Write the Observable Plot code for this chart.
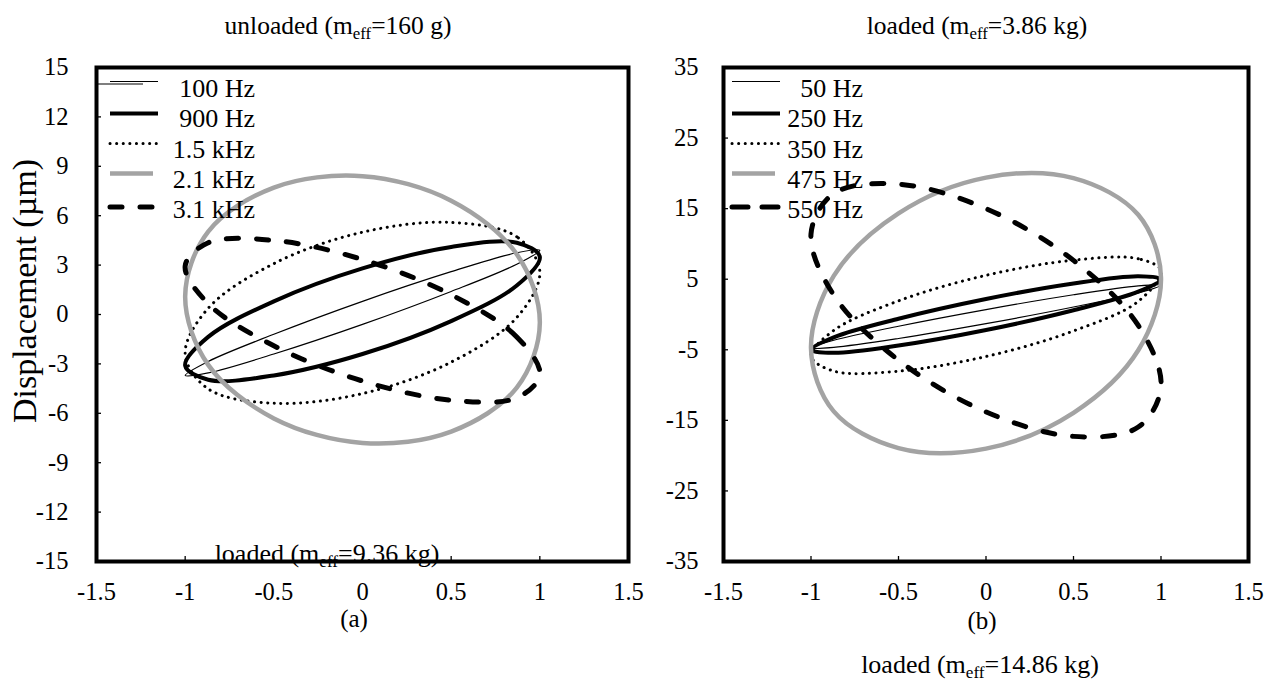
<!DOCTYPE html>
<html><head><meta charset="utf-8">
<script src="https://cdn.jsdelivr.net/npm/d3@7"></script>
<script src="https://cdn.jsdelivr.net/npm/@observablehq/plot@0.6"></script>
<style>
body{margin:0;background:#fff;}
#wrap{position:relative;width:1273px;height:686px;overflow:hidden;background:#fff;}
</style></head><body><div id="wrap"></div>
<script>
// ---------- data ----------
const xTicks = [-1.5, -1, -0.5, 0, 0.5, 1, 1.5];
const yTicksA = [-15, -12, -9, -6, -3, 0, 3, 6, 9, 12, 15];
const yTicksB = [-35, -25, -15, -5, 5, 15, 25, 35];
const labelsA = ["100 Hz", "900 Hz", "1.5 kHz", "2.1 kHz", "3.1 kHz"];
const labelsB = ["50 Hz", "250 Hz", "350 Hz", "475 Hz", "550 Hz"];

// panel (a): unloaded, loops as [x, displacement µm]
const a100 = [[1,3.9],[0.87,3.75],[0.5,2.6],[0,0.8],[-0.5,-1.2],[-0.87,-2.85],[-1,-3.7],[-0.87,-3.55],[-0.5,-2.4],[0,-0.6],[0.5,1.4],[0.87,3.05]];
const a900 = [[1,3.5],[0.87,4.36],[0.5,4.1],[0,2.8],[-0.5,0.8],[-0.87,-1.36],[-1,-3.1],[-0.87,-3.96],[-0.5,-3.7],[0,-2.4],[0.5,-0.4],[0.87,1.76]];
const a1500 = [[1,2.6],[0.87,4.72],[0.5,5.59],[0,5.0],[-0.5,3.09],[-0.87,0.38],[-1,-2.4],[-0.87,-4.52],[-0.5,-5.39],[0,-4.8],[0.5,-2.89],[0.87,-0.18]];
const a2100 = [[1,-0.5],[0.87,3.66],[0.5,6.91],[0,8.4],[-0.5,7.71],[-0.87,5.04],[-1,1.1],[-0.87,-3.06],[-0.5,-6.31],[0,-7.8],[0.5,-7.11],[0.87,-4.44]];
const a3100 = [[1,-3.65],[0.87,-1.36],[0.5,1.2],[0,3.34],[-0.5,4.5],[-0.87,4.36],[-1,2.95],[-0.87,0.66],[-0.5,-1.9],[0,-4.04],[0.5,-5.2],[0.87,-5.06]];

// panel (b): loaded
const b50 = [[1,4.15],[0.87,4.05],[0.5,2.8],[0,0.7],[-0.5,-1.66],[-0.87,-3.65],[-1,-4.75],[-0.87,-4.65],[-0.5,-3.4],[0,-1.3],[0.5,1.06],[0.87,3.05]];
const b250 = [[1,5],[0.87,5.43],[0.5,4.4],[0,2.2],[-0.5,-0.6],[-0.87,-3.23],[-1,-5],[-0.87,-5.43],[-0.5,-4.4],[0,-2.2],[0.5,0.6],[0.87,3.23]];
const b350 = [[1,6.2],[0.87,7.9],[0.5,7.7],[0,5.55],[-0.5,1.93],[-0.87,-2.26],[-1,-5.9],[-0.87,-8.02],[-0.5,-8.03],[0,-5.95],[0.5,-2.33],[0.87,1.86]];
const b475 = [[1,5.2],[0.87,14.13],[0.5,19.33],[0,19.4],[-0.5,14.33],[-0.87,5.47],[-1,-4.8],[-0.87,-13.73],[-0.5,-18.93],[0,-19.0],[0.5,-13.93],[0.87,-5.07]];
const b550 = [[1,-10.2],[0.87,-1.55],[0.5,7.67],[0,15.0],[-0.5,18.47],[-0.87,17.15],[-1,11.4],[-0.87,2.75],[-0.5,-6.47],[0,-13.8],[0.5,-17.27],[0.87,-15.95]];

const seriesA = [a100, a900, a1500, a2100, a3100];
const seriesB = [b50, b250, b350, b475, b550];

// ---------- styles ----------
const GREY = "#a3a3a3";
const FONT = "'Liberation Serif', 'Times New Roman', serif";
const TICK_FONT = "24.5px";
const styles = [
  {stroke: "black", strokeWidth: 1.2},
  {stroke: "black", strokeWidth: 4},
  {stroke: "black", strokeWidth: 3, strokeDasharray: "0.1 6.5", strokeLinecap: "round"},
  {stroke: GREY, strokeWidth: 4.5},
  {stroke: "black", strokeWidth: 5, strokeDasharray: "12 18", strokeLinecap: "round"}
];

const wrap = document.getElementById("wrap");
const fmt = d => String(d);

function panel(series, yDomain, yTicks, left, width, mLeft, mRight, yPad) {
  const svg = Plot.plot({
    width, height: 686,
    marginTop: 67, marginBottom: 125, marginLeft: mLeft, marginRight: mRight,
    x: {domain: [-1.5, 1.5]},
    y: {domain: yDomain},
    style: {fontFamily: FONT, fontSize: TICK_FONT, color: "black", background: "transparent", overflow: "visible"},
    marks: [
      ...series.map((s, i) => Plot.line(s, {x: d => d[0], y: d => d[1], curve: "catmull-rom-closed", ...styles[i]})),
      Plot.axisX({ticks: xTicks, tickFormat: fmt, tickSize: -5, tickPadding: 26, label: null, strokeWidth: 1.3}),
      Plot.axisY({ticks: yTicks, tickFormat: fmt, tickSize: -5, tickPadding: yPad, label: null, strokeWidth: 1.3}),
      Plot.frame({stroke: "black", strokeWidth: 4})
    ]
  });
  d3.select(svg).selectAll("g[aria-label*='tick label'], g[aria-label*='tick label'] text")
    .attr("font-size", null).style("font-size", TICK_FONT).style("font-family", FONT);
  svg.style.position = "absolute";
  svg.style.left = left + "px";
  svg.style.top = "0px";
  wrap.appendChild(svg);
}

panel(seriesA, [-15, 15], yTicksA, 0, 660, 96, 32, 33);
panel(seriesB, [-35, 35], yTicksB, 640, 633, 83, 25, 30);

// ---------- overlay text & legends ----------
const ov = d3.select(wrap).append("svg")
  .attr("width", 1273).attr("height", 686)
  .style("position", "absolute").style("left", "0px").style("top", "0px")
  .attr("font-family", FONT).attr("fill", "black");

function meffText(x, y, size, pre, post) {
  const t = ov.append("text").attr("x", x).attr("y", y).attr("text-anchor", "middle").attr("font-size", size);
  t.append("tspan").text(pre + "m");
  t.append("tspan").attr("font-size", size * 0.66).attr("dy", size * 0.18).text("eff");
  t.append("tspan").attr("dy", -size * 0.18).text(post);
}
meffText(338, 34, 25.5, "unloaded (", "=160 g)");
meffText(977, 34, 25.5, "loaded (", "=3.86 kg)");
meffText(327, 562, 26, "loaded (", "=9.36 kg)");
meffText(980, 673, 26, "loaded (", "=14.86 kg)");
ov.append("text").attr("x", 354).attr("y", 627).attr("text-anchor", "middle").attr("font-size", 25).text("(a)");
ov.append("text").attr("x", 982).attr("y", 629).attr("text-anchor", "middle").attr("font-size", 25).text("(b)");
ov.append("text").attr("transform", "translate(36,291) rotate(-90)").attr("text-anchor", "middle").attr("font-size", 34).text("Displacement (µm)");

function legend(labels, textRight, lineX1, lineX2, dashed) {
  const baseY = 97, step = 30.3;
  const lineYs = [81.5, 113.5, 143.5, 173.5, 207];
  labels.forEach((lab, i) => {
    const st = styles[i];
    const ln = ov.append("line")
      .attr("x1", lineX1).attr("x2", i === 3 ? lineX2 - 5 : lineX2)
      .attr("y1", lineYs[i]).attr("y2", lineYs[i])
      .attr("stroke", st.stroke).attr("stroke-width", st.strokeWidth);
    if (st.strokeDasharray) ln.attr("stroke-dasharray", i === 4 ? dashed : st.strokeDasharray).attr("stroke-linecap", st.strokeLinecap);
    ov.append("text").attr("x", textRight).attr("y", baseY + step * i)
      .attr("text-anchor", "end").attr("font-size", 26).text(lab);
  });
}
legend(labelsA, 255, 110, 158, "12 18");
legend(labelsB, 863, 732, 780, "16 14");
// second thin stroke of the 100 Hz legend sample
ov.append("line").attr("x1", 98).attr("x2", 143).attr("y1", 84).attr("y2", 84).attr("stroke", "black").attr("stroke-width", 1.2);
</script>
</body></html>
